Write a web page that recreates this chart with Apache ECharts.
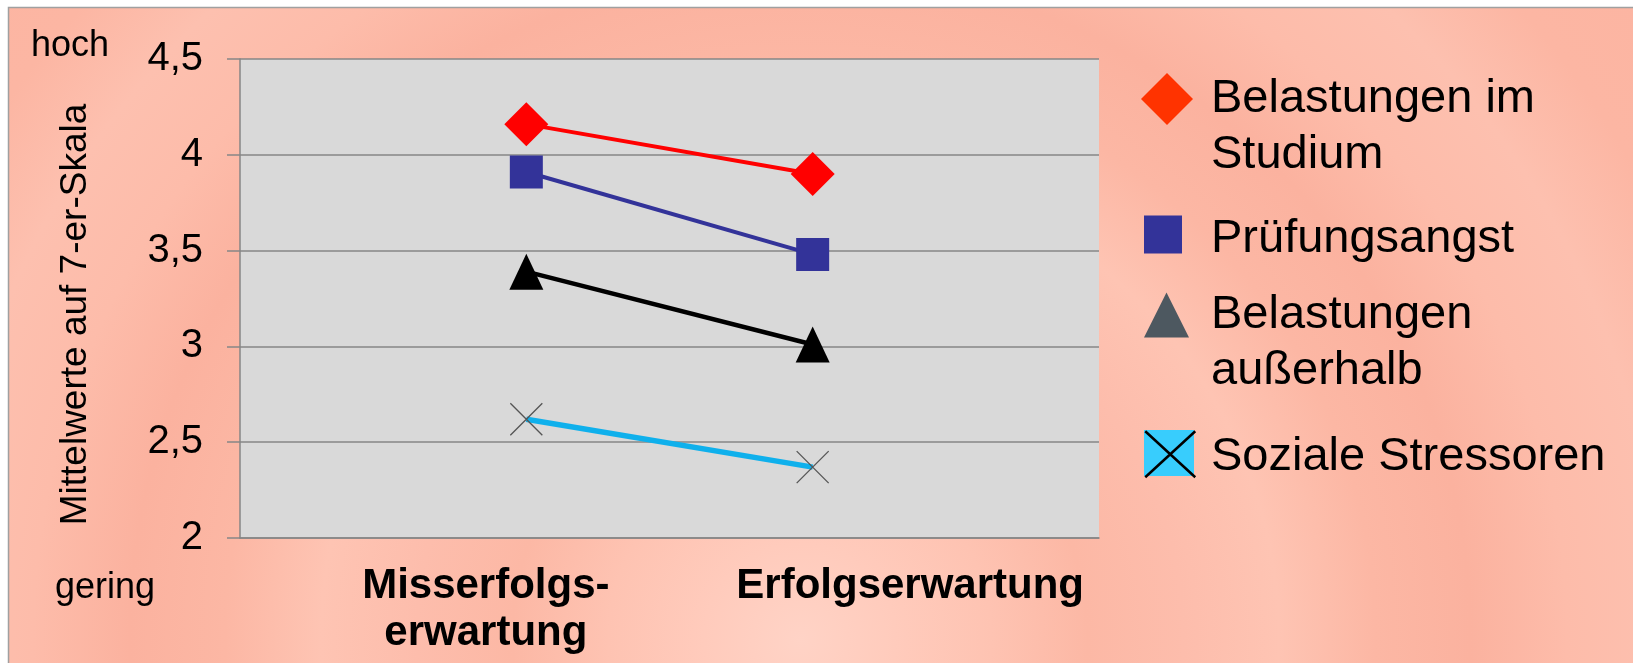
<!DOCTYPE html>
<html>
<head>
<meta charset="utf-8">
<script src="https://cdn.jsdelivr.net/npm/echarts@6/dist/echarts.min.js"></script>
<style>
  html, body { margin: 0; padding: 0; background: #ffffff; }
  #chart { width: 1633px; height: 663px; }
</style>
</head>
<body>
<div id="chart"></div>
<script>
// ---- data ----
const categories = ['', 'Misserfolgs-\nerwartung', 'Erfolgserwartung', ''];
const seriesNames = ['Belastungen im\nStudium', 'Prüfungsangst', 'Belastungen\naußerhalb', 'Soziale Stressoren'];
const belastungenStudium = [null, 4.16, 3.90, null];
const pruefungsangst = [null, 3.91, 3.48, null];
const belastungenAusserhalb = [null, 3.39, 3.01, null];
const sozialeStressoren = [null, 2.62, 2.37, null];
const yTicks = [2, 2.5, 3, 3.5, 4, 4.5];
const yTickLabels = ['2', '2,5', '3', '3,5', '4', '4,5'];
const yAxisTitle = 'Mittelwerte auf 7-er-Skala';
const highLabel = 'hoch';
const lowLabel = 'gering';

// ---- styling ----
const FONT = '"Liberation Sans", Arial, sans-serif';
const catLabelPadding = [[0,0,0,0], [0, 81, 0, 0], [0, 0, 0, 195], [0,0,0,0]];
const xSymbol = 'path://M0,0L10,10M10,0L0,10';
const LEG_FS = 47, LEG_LH = 56;

const chart = echarts.init(document.getElementById('chart'), null, { renderer: 'canvas' });

const ringStops = [];
const ringColors = ['#ffd3c6','#ffcbbc','#fec3b2','#fcb8a5','#fdbdac','#fec4b3','#fcb7a4','#fbb29f','#fdbcaa','#fdc0af','#fcb6a3','#fcb5a2','#fdbaa8'];
ringColors.forEach((c, i) => ringStops.push({ offset: i / (ringColors.length - 1), color: c }));

// legend label builder: a spacer line above the name lines
function legendFormatter(spacer) {
  return function (name) {
    const lines = name.split('\n').map(s => '{t|' + s + '}');
    if (spacer === 'line') return '{e| }\n' + lines.join('\n');
    return '{s| }\n' + lines.join('\n');
  };
}
function legendRich(spacerHeight) {
  return {
    t: { fontSize: LEG_FS, lineHeight: LEG_LH, color: '#000', fontFamily: FONT },
    e: { fontSize: LEG_FS, lineHeight: LEG_LH, color: '#000', fontFamily: FONT },
    s: { fontSize: 4, lineHeight: spacerHeight, color: '#000', fontFamily: FONT }
  };
}

const legendCommon = {
  orient: 'vertical', padding: 0, selectedMode: false, symbolKeepAspect: false
};

const option = {
  animation: false,
  textStyle: { fontFamily: FONT },
  graphic: [
    {
      type: 'rect', z: -100, silent: true,
      shape: { x: 8.5, y: 7.5, width: 1640, height: 670 },
      style: {
        fill: { type: 'radial', x: 800, y: 640, r: 1150, global: true, colorStops: ringStops },
        stroke: '#a0a0a0', lineWidth: 1.5
      }
    },
    { type: 'text', left: 31, top: 28, style: { text: highLabel, fill: '#000', font: '36px ' + FONT } },
    { type: 'text', left: 55, top: 570, style: { text: lowLabel, fill: '#000', font: '36px ' + FONT } }
  ],
  grid: {
    left: 240, right: 534, top: 59, bottom: 125,
    show: true, backgroundColor: '#d9d9d9', borderWidth: 0
  },
  legend: [
    Object.assign({}, legendCommon, {
      left: 1141, top: 15, itemWidth: 52, itemHeight: 52,
      formatter: legendFormatter('line'),
      textStyle: { fontSize: LEG_FS, lineHeight: LEG_LH, color: '#000', padding: [0, 0, 0, 13], rich: legendRich(9) },
      data: [{ name: seriesNames[0], icon: 'diamond', itemStyle: { color: '#ff3300', borderWidth: 0 } }]
    }),
    Object.assign({}, legendCommon, {
      left: 1144, top: 202, itemWidth: 38, itemHeight: 38,
      formatter: legendFormatter('small'),
      textStyle: { fontSize: LEG_FS, lineHeight: LEG_LH, color: '#000', padding: [0, 0, 0, 24], rich: legendRich(9) },
      data: [{ name: seriesNames[1], icon: 'rect', itemStyle: { color: '#333399', borderWidth: 0 } }]
    }),
    Object.assign({}, legendCommon, {
      left: 1144, top: 231, itemWidth: 45, itemHeight: 45,
      formatter: legendFormatter('line'),
      textStyle: { fontSize: LEG_FS, lineHeight: LEG_LH, color: '#000', padding: [0, 0, 0, 17], rich: legendRich(9) },
      data: [{ name: seriesNames[2], icon: 'triangle', itemStyle: { color: '#4d5860', borderWidth: 0 } }]
    }),
    Object.assign({}, legendCommon, {
      left: 1144, top: 420.5, itemWidth: 50, itemHeight: 46,
      formatter: legendFormatter('small'),
      textStyle: { fontSize: LEG_FS, lineHeight: LEG_LH, color: '#000', padding: [0, 0, 0, 12], rich: legendRich(9) },
      data: [{ name: seriesNames[3], icon: 'rect', itemStyle: { color: '#38cdfd', borderWidth: 0 } }]
    }),
    Object.assign({}, legendCommon, {
      left: 1144, top: 430, itemWidth: 50, itemHeight: 46,
      formatter: function () { return ''; },
      textStyle: { fontSize: 10, lineHeight: 10 },
      data: [{ name: seriesNames[3], icon: 'path://M0,0L50,46M50,0L0,46', itemStyle: { color: 'rgba(0,0,0,0)', borderColor: '#000', borderWidth: 2.5 } }]
    })
  ],
  xAxis: {
    type: 'category',
    boundaryGap: false,
    data: categories.map((c, i) => ({ value: c, textStyle: { padding: catLabelPadding[i] } })),
    axisLine: { show: true, lineStyle: { color: '#868686', width: 1.5 } },
    axisTick: { show: false },
    splitLine: { show: false },
    axisLabel: {
      interval: 0, margin: 25, fontSize: 42, fontWeight: 'bold', color: '#000',
      lineHeight: 47, fontFamily: FONT
    }
  },
  yAxis: {
    type: 'value',
    min: yTicks[0], max: yTicks[yTicks.length - 1], interval: 0.5,
    name: yAxisTitle,
    nameLocation: 'middle', nameRotate: 90, nameGap: 146,
    nameTextStyle: { fontSize: 37, color: '#000', fontFamily: FONT, padding: [0, 32, 0, 0] },
    axisLine: { show: true, lineStyle: { color: '#868686', width: 1.5 } },
    axisTick: { show: true, inside: false, length: 13, lineStyle: { color: '#868686', width: 1.5 } },
    splitLine: { show: true, lineStyle: { color: '#868686', width: 1.5 } },
    axisLabel: {
      margin: 37, fontSize: 40, color: '#000', fontFamily: FONT,
      formatter: function (v) {
        const idx = yTicks.findIndex(t => Math.abs(t - v) < 1e-9);
        return idx >= 0 ? yTickLabels[idx] : '';
      }
    }
  },
  series: [
    {
      name: seriesNames[0], type: 'line', data: belastungenStudium,
      symbol: 'diamond', symbolSize: 44,
      itemStyle: { color: '#ff0000' },
      lineStyle: { color: '#ff0000', width: 4 }, z: 5
    },
    {
      name: seriesNames[1], type: 'line', data: pruefungsangst,
      symbol: 'rect', symbolSize: 33,
      itemStyle: { color: '#333399' },
      lineStyle: { color: '#333399', width: 4 }, z: 4
    },
    {
      name: seriesNames[2], type: 'line', data: belastungenAusserhalb,
      symbol: 'triangle', symbolSize: [34, 36],
      itemStyle: { color: '#000000' },
      lineStyle: { color: '#000000', width: 4.5 }, z: 3
    },
    {
      name: seriesNames[3], type: 'line', data: sozialeStressoren,
      symbol: xSymbol, symbolSize: 32,
      itemStyle: { color: 'rgba(0,0,0,0)', borderColor: '#555555', borderWidth: 1.3 },
      lineStyle: { color: '#0fb0ec', width: 5.5 }, z: 2
    }
  ]
};

chart.setOption(option);
</script>
</body>
</html>
